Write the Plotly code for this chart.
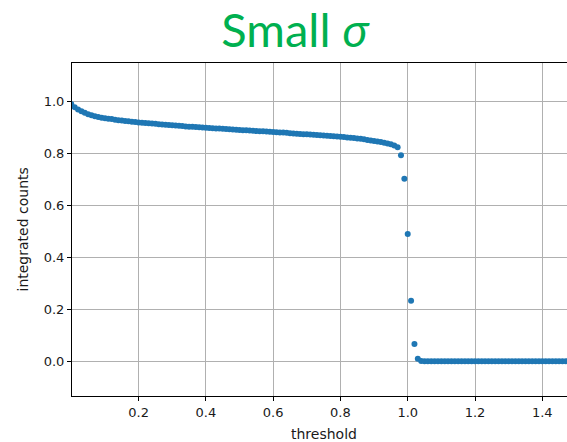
import plotly.graph_objects as go

# threshold values (x) and integrated counts (y)
thresholds = [
    0.00, 0.01, 0.02, 0.03, 0.04, 0.05, 0.06, 0.07, 0.08, 0.09,
    0.10, 0.11, 0.12, 0.13, 0.14, 0.15, 0.16, 0.17, 0.18, 0.19,
    0.20, 0.21, 0.22, 0.23, 0.24, 0.25, 0.26, 0.27, 0.28, 0.29,
    0.30, 0.31, 0.32, 0.33, 0.34, 0.35, 0.36, 0.37, 0.38, 0.39,
    0.40, 0.41, 0.42, 0.43, 0.44, 0.45, 0.46, 0.47, 0.48, 0.49,
    0.50, 0.51, 0.52, 0.53, 0.54, 0.55, 0.56, 0.57, 0.58, 0.59,
    0.60, 0.61, 0.62, 0.63, 0.64, 0.65, 0.66, 0.67, 0.68, 0.69,
    0.70, 0.71, 0.72, 0.73, 0.74, 0.75, 0.76, 0.77, 0.78, 0.79,
    0.80, 0.81, 0.82, 0.83, 0.84, 0.85, 0.86, 0.87, 0.88, 0.89,
    0.90, 0.91, 0.92, 0.93, 0.94, 0.95, 0.96, 0.97, 0.98, 0.99,
    1.00, 1.01, 1.02, 1.03, 1.04, 1.05, 1.06, 1.07, 1.08, 1.09,
    1.10, 1.11, 1.12, 1.13, 1.14, 1.15, 1.16, 1.17, 1.18, 1.19,
    1.20, 1.21, 1.22, 1.23, 1.24, 1.25, 1.26, 1.27, 1.28, 1.29,
    1.30, 1.31, 1.32, 1.33, 1.34, 1.35, 1.36, 1.37, 1.38, 1.39,
    1.40, 1.41, 1.42, 1.43, 1.44, 1.45, 1.46, 1.47, 1.48, 1.49,
    1.50,
]
counts = [
    0.990, 0.978, 0.969, 0.962, 0.956, 0.951, 0.947, 0.943, 0.940, 0.937,
    0.935, 0.933, 0.932, 0.930, 0.928, 0.927, 0.925, 0.924, 0.922, 0.921,
    0.919, 0.918, 0.917, 0.916, 0.915, 0.914, 0.912, 0.911, 0.910, 0.909,
    0.908, 0.907, 0.906, 0.905, 0.904, 0.903, 0.903, 0.902, 0.901, 0.900,
    0.899, 0.898, 0.897, 0.896, 0.896, 0.895, 0.894, 0.893, 0.892, 0.891,
    0.890, 0.889, 0.889, 0.888, 0.887, 0.886, 0.885, 0.885, 0.884, 0.883,
    0.882, 0.881, 0.880, 0.880, 0.879, 0.878, 0.877, 0.876, 0.875, 0.874,
    0.874, 0.873, 0.872, 0.871, 0.870, 0.869, 0.868, 0.867, 0.866, 0.865,
    0.864, 0.863, 0.861, 0.860, 0.859, 0.857, 0.856, 0.854, 0.852, 0.850,
    0.848, 0.846, 0.844, 0.841, 0.838, 0.835, 0.830, 0.824, 0.793, 0.702,
    0.490, 0.233, 0.066, 0.009, 0.001, 0.000, 0.000, 0.000, 0.000, 0.000,
    0.000, 0.000, 0.000, 0.000, 0.000, 0.000, 0.000, 0.000, 0.000, 0.000,
    0.000, 0.000, 0.000, 0.000, 0.000, 0.000, 0.000, 0.000, 0.000, 0.000,
    0.000, 0.000, 0.000, 0.000, 0.000, 0.000, 0.000, 0.000, 0.000, 0.000,
    0.000, 0.000, 0.000, 0.000, 0.000, 0.000, 0.000, 0.000, 0.000, 0.000,
    0.000,
]
x_ticks = [0.2, 0.4, 0.6, 0.8, 1.0, 1.2, 1.4]
x_tick_labels = ["0.2", "0.4", "0.6", "0.8", "1.0", "1.2", "1.4"]
y_ticks = [0.0, 0.2, 0.4, 0.6, 0.8, 1.0]
y_tick_labels = ["0.0", "0.2", "0.4", "0.6", "0.8", "1.0"]

W, H = 567, 442
ML, MR, MT, MB = 72, 0, 63, 46

fig = go.Figure()
fig.add_trace(go.Scatter(
    x=thresholds, y=counts, mode="markers",
    marker=dict(color="#1f77b4", size=6, line=dict(width=0)),
    showlegend=False, cliponaxis=True,
))

tick_font = dict(family="DejaVu Sans", size=13, color="#1a1a1a")
fig.update_layout(
    width=W, height=H,
    margin=dict(l=ML, r=MR, t=MT, b=MB, pad=0),
    paper_bgcolor="white", plot_bgcolor="white",
    title=dict(
        text="Small <i>σ</i>",
        font=dict(family="Lato", size=47, color="#00B050"),
        x=295 / W, xref="container", xanchor="center",
        y=1 - 31 / H, yref="container", yanchor="middle",
    ),
    xaxis=dict(
        range=[0.002, 1.4735],
        tickmode="array", tickvals=x_ticks, ticktext=x_tick_labels,
        showgrid=True, gridcolor="#b0b0b0", gridwidth=1,
        zeroline=False,
        showline=True, linecolor="black", linewidth=1, mirror=True,
        ticks="outside", ticklen=4, tickcolor="black", tickwidth=1,
        tickfont=tick_font,
    ),
    yaxis=dict(
        range=[-0.134, 1.148],
        tickmode="array", tickvals=y_ticks, ticktext=y_tick_labels,
        showgrid=True, gridcolor="#b0b0b0", gridwidth=1,
        zeroline=False,
        showline=True, linecolor="black", linewidth=1, mirror=False,
        ticks="outside", ticklen=4, tickcolor="black", tickwidth=1,
        tickfont=tick_font,
    ),
    annotations=[
        dict(text="threshold", x=0.75, xref="x", xanchor="center",
             y=-(423.5 - (H - MB)) / (H - MT - MB), yref="paper", yanchor="top",
             showarrow=False, font=dict(family="DejaVu Sans", size=14, color="#1a1a1a")),
        dict(text="integrated counts", x=(22 - ML) / (W - ML - MR), xref="paper",
             xanchor="center", y=0.5, yref="paper", yanchor="middle", textangle=-90,
             showarrow=False, font=dict(family="DejaVu Sans", size=14, color="#1a1a1a")),
    ],
)

fig.write_html("out.html")
